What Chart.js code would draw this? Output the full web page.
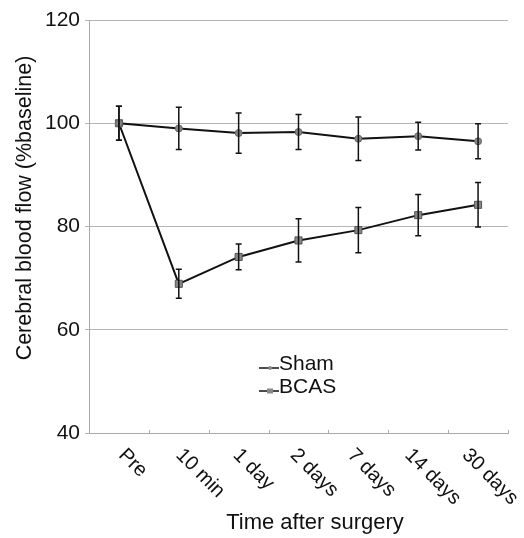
<!DOCTYPE html>
<html>
<head>
<meta charset="utf-8">
<script src="https://cdn.jsdelivr.net/npm/chart.js@4"></script>
<style>
  html, body { margin: 0; padding: 0; background: #fff; }
  #wrap { width: 524px; height: 538px; }
</style>
</head>
<body>
<div id="wrap"><canvas id="cbfChart" width="524" height="538"></canvas></div>
<script>
const timepoints = ["Pre", "10 min", "1 day", "2 days", "7 days", "14 days", "30 days"];
const shamMean = [100, 99.0, 98.1, 98.3, 97.0, 97.5, 96.5];
const shamErr = [3.3, 4.1, 3.9, 3.4, 4.2, 2.7, 3.4];
const bcasMean = [100, 68.9, 74.1, 77.3, 79.3, 82.2, 84.2];
const bcasErr = [3.3, 2.8, 2.5, 4.2, 4.4, 4.0, 4.3];
const yTicks = [40, 60, 80, 100, 120];

const FONT = "'Liberation Sans', Arial, sans-serif";

// error bars + rotated x labels + titles + legend
const extras = {
  id: "extras",
  afterDatasetsDraw: (chart) => {
    const { ctx, scales: { x, y } } = chart;
    ctx.save();
    ctx.strokeStyle = "#111";
    ctx.lineWidth = 1.5;
    [[shamMean, shamErr], [bcasMean, bcasErr]].forEach(([m, e]) => {
      m.forEach((v, i) => {
        const px = x.getPixelForValue(i);
        const top = y.getPixelForValue(v + e[i]);
        const bot = y.getPixelForValue(v - e[i]);
        ctx.beginPath();
        ctx.moveTo(px, top); ctx.lineTo(px, bot);
        ctx.moveTo(px - 3, top); ctx.lineTo(px + 3, top);
        ctx.moveTo(px - 3, bot); ctx.lineTo(px + 3, bot);
        ctx.stroke();
      });
    });
    ctx.restore();
  },
  afterDraw: (chart) => {
    const { ctx, chartArea, scales: { x } } = chart;
    ctx.save();
    ctx.fillStyle = "#111";

    // small boundary ticks on the bottom line
    ctx.strokeStyle = "#aaa";
    ctx.lineWidth = 1;
    for (let i = 0; i <= timepoints.length; i++) {
      const bx = Math.round(x.getPixelForValue(i - 0.5)) + 0.5;
      ctx.beginPath();
      ctx.moveTo(bx, chartArea.bottom); ctx.lineTo(bx, chartArea.bottom - 3);
      ctx.stroke();
    }

    // rotated category labels (slightly tighter than the ticks, as in the source)
    ctx.font = "20px " + FONT;
    ctx.textAlign = "left";
    ctx.textBaseline = "top";
    const mid = (timepoints.length - 1) / 2;
    timepoints.forEach((lab, i) => {
      const px = x.getPixelForValue(i) + 3 + (mid - i) * 2.6;
      ctx.save();
      ctx.translate(px - 1, chartArea.bottom + 12);
      ctx.rotate(Math.PI / 4);
      ctx.fillText(lab, 0, 0);
      ctx.restore();
    });

    ctx.font = "22px " + FONT;
    ctx.textAlign = "center";
    ctx.textBaseline = "alphabetic";
    ctx.fillText("Time after surgery", 315, 529);

    ctx.save();
    ctx.translate(25, 208);
    ctx.rotate(-Math.PI / 2);
    ctx.textBaseline = "middle";
    ctx.font = "21.5px " + FONT;
    ctx.fillText("Cerebral blood flow (%baseline)", 0, 0);
    ctx.restore();

    // legend
    const lx = chartArea.left + 170, ly = chartArea.top + 348;
    ctx.strokeStyle = "#111";
    ctx.lineWidth = 1.5;
    ctx.textAlign = "left";
    ctx.textBaseline = "middle";
    ctx.font = "21px " + FONT;
    [["Sham", "circle"], ["BCAS", "rect"]].forEach(([name, shape], k) => {
      const yy = ly + k * 23;
      ctx.beginPath();
      ctx.moveTo(lx, yy); ctx.lineTo(lx + 20, yy);
      ctx.stroke();
      ctx.fillStyle = "#888";
      if (shape === "circle") {
        ctx.beginPath(); ctx.arc(lx + 11, yy, 2, 0, Math.PI * 2); ctx.fill();
      } else {
        ctx.fillRect(lx + 8, yy - 2.5, 6, 5);
      }
      ctx.fillStyle = "#111";
      ctx.fillText(name, lx + 20, yy - 4);
    });
    ctx.restore();
  },
};

new Chart(document.getElementById("cbfChart").getContext("2d"), {
  type: "line",
  data: {
    labels: timepoints,
    datasets: [
      {
        label: "Sham",
        data: shamMean,
        borderColor: "#111",
        borderWidth: 2,
        pointStyle: "circle",
        pointRadius: 3.5,
        pointBackgroundColor: "#888",
        pointBorderColor: "#666",
        pointBorderWidth: 1,
        tension: 0,
      },
      {
        label: "BCAS",
        data: bcasMean,
        borderColor: "#111",
        borderWidth: 2,
        pointStyle: "rect",
        pointRadius: 5,
        pointBackgroundColor: "#888",
        pointBorderColor: "#555",
        pointBorderWidth: 1,
        tension: 0,
      },
    ],
  },
  options: {
    responsive: false,
    animation: false,
    layout: { padding: { top: 20, right: 16, left: 0, bottom: 0 } },
    plugins: { legend: { display: false }, tooltip: { enabled: false } },
    scales: {
      x: {
        offset: true,
        grid: { display: false },
        border: { color: "#aaa", width: 1 },
        ticks: { display: false },
        afterFit: (s) => { s.height = 105; },
      },
      y: {
        min: 40,
        max: 120,
        afterBuildTicks: (s) => { s.ticks = yTicks.map((v) => ({ value: v })); },
        grid: { color: "#b5b5b5", lineWidth: 1, tickLength: 4 },
        border: { color: "#aaa", width: 1 },
        ticks: { color: "#111", font: { family: FONT, size: 21 }, padding: 5 },
        afterFit: (s) => { s.width = 89; },
      },
    },
  },
  plugins: [extras],
});
</script>
</body>
</html>
